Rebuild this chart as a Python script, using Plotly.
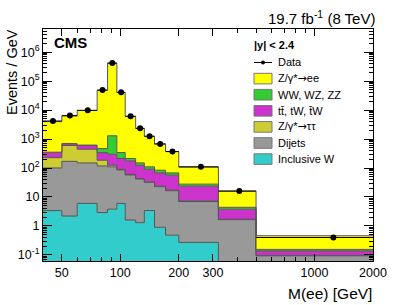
import numpy as np
import plotly.graph_objects as go

# ---------------- data (Events / GeV) ----------------
mass_edges = [40, 50, 60, 76, 86, 96, 106, 120, 133, 150, 171, 200, 320, 500, 2000]
data_vals = [4200, 6450, 9800, 49000, 420000, 41000, 6100, 2350, 1250, 680, 371, 110, 16, 0.40]

incl_w  = [3.4, 2.2, 6.0, 2.9, 3.8, 6.0, 1.6, 1.3, 3.4, 0.9, 0.48, 0.27, 0.01, 0.001]
dijets  = [97, 168, 144, 115, 106, 80, 56, 40, 28.6, 21.8, 16.0, 6.7, 1.64, 0.092]
ztautau = [128, 430, 296, 68, 15, 4, 3, 2, 1.4, 1.0, 0.8, 0.4, 0.05, 0.004]
ttbar   = [117, 90, 164, 154, 175, 123, 116, 81, 57.6, 44.3, 39.5, 16.3, 2.1, 0.04]
diboson = [7, 10, 10, 130, 1000, 129, 36, 26, 19, 16, 11.2, 4.1, 0.6, 0.018]
zee     = [3650, 5600, 9080, 48000, 413700, 40150, 5840, 2180, 1130, 591, 300, 80, 11.6, 0.305]

x_ticks = [50, 100, 200, 300, 1000, 2000]
x_ticklabels = ["50", "100", "200", "300", "1000", "2000"]
y_ticks = [0.1, 1, 10, 1e2, 1e3, 1e4, 1e5, 1e6]
y_ticklabels = ["10<sup>-1</sup>", "1", "10", "10<sup>2</sup>", "10<sup>3</sup>",
                "10<sup>4</sup>", "10<sup>5</sup>", "10<sup>6</sup>"]

ARROW = '<span style="font-family:DejaVu Sans">→</span>'
layer_names = ["Inclusive W", "Dijets", "Z/γ*" + ARROW + "ττ", "tt\u0304, tW, t\u0304W",
               "WW, WZ, ZZ", "Z/γ*" + ARROW + "ee"]
layer_vals = [incl_w, dijets, ztautau, ttbar, diboson, zee]
layer_colors = ["#33cccc", "#999999", "#cccc33", "#cc33cc", "#33cc33", "#ffff00"]

FONT = "Liberation Sans, Arial, Helvetica, sans-serif"

fig = go.Figure()

edges = np.array(mass_edges, dtype=float)
floor = np.full(len(data_vals), 1e-4)
fig.add_trace(go.Scatter(x=edges, y=np.append(floor, floor[-1]), mode="lines",
                         line=dict(width=0, shape="hv"), showlegend=False,
                         hoverinfo="skip"))
cum = floor.copy()
for name, vals, col in zip(layer_names, layer_vals, layer_colors):
    cum = cum + np.array(vals, dtype=float)
    fig.add_trace(go.Scatter(
        x=edges, y=np.append(cum, cum[-1]), mode="lines",
        line=dict(width=1, color="#555555", shape="hv"),
        fill="tonexty", fillcolor=col, name=name, showlegend=False))

centers = 0.5 * (edges[:-1] + edges[1:])
fig.add_trace(go.Scatter(
    x=centers, y=data_vals, mode="markers",
    marker=dict(color="black", size=6),
    error_x=dict(type="data", symmetric=False,
                 array=edges[1:] - centers, arrayminus=centers - edges[:-1],
                 width=0, thickness=1, color="black"),
    showlegend=False, name="Data"))

# ---------------- layout ----------------
W, H = 399, 305
L, R, T, B = 43, 373, 29, 261


def px(xp):
    return (xp - L) / (R - L)


def py(yp):
    return (B - yp) / (B - T)


shapes = []
annotations = []
LEGFONT = 11

# legend (manual)
annotations.append(dict(text="<b>|y| < 2.4</b>", x=px(252), y=py(45), xref="paper", yref="paper",
                        xanchor="left", yanchor="middle", showarrow=False,
                        font=dict(family=FONT, size=11, color="black")))
leg_y0 = 62.5
leg_dy = 16.1
# Data entry
shapes.append(dict(type="line", xref="paper", yref="paper", x0=px(254), x1=px(272),
                   y0=py(leg_y0), y1=py(leg_y0), line=dict(color="black", width=1)))
shapes.append(dict(type="circle", xref="paper", yref="paper", x0=px(261), x1=px(265),
                   y0=py(leg_y0 + 2), y1=py(leg_y0 - 2), fillcolor="black",
                   line=dict(color="black", width=0)))
annotations.append(dict(text="Data", x=px(276), y=py(leg_y0), xref="paper", yref="paper",
                        xanchor="left", yanchor="middle", showarrow=False,
                        font=dict(family=FONT, size=LEGFONT, color="black")))
for i, (name, col) in enumerate(zip(layer_names[::-1], layer_colors[::-1])):
    yc = leg_y0 + leg_dy * (i + 1)
    shapes.append(dict(type="rect", xref="paper", yref="paper", x0=px(254), x1=px(272),
                       y0=py(yc + 5.3), y1=py(yc - 5.3), fillcolor=col,
                       line=dict(color="#777777", width=1)))
    annotations.append(dict(text=name, x=px(276), y=py(yc), xref="paper", yref="paper",
                            xanchor="left", yanchor="middle", showarrow=False,
                            font=dict(family=FONT, size=LEGFONT, color="black")))

# CMS label
annotations.append(dict(text="<b>CMS</b>", x=px(52), y=py(43), xref="paper", yref="paper",
                        xanchor="left", yanchor="middle", showarrow=False,
                        font=dict(family=FONT, size=15, color="black")))
# lumi label
annotations.append(dict(text="19.7 fb<sup>-1</sup> (8 TeV)", x=px(377), y=py(17),
                        xref="paper", yref="paper", xanchor="right", yanchor="middle",
                        showarrow=False, font=dict(family=FONT, size=15, color="black")))
# axis titles
annotations.append(dict(text="M(ee) [GeV]", x=px(374), y=py(293), xref="paper", yref="paper",
                        xanchor="right", yanchor="middle", showarrow=False,
                        font=dict(family=FONT, size=15.5, color="black")))
annotations.append(dict(text="Events / GeV", x=px(12), y=py(27), xref="paper", yref="paper",
                        xanchor="center", yanchor="top", textangle=-90, showarrow=False,
                        font=dict(family=FONT, size=14.5, color="black")))

x_minor = [60, 70, 80, 90, 400, 500, 600, 700, 800, 900]
y_minor = [k * 10.0 ** p for p in range(-2, 7) for k in range(2, 10)]

fig.update_layout(
    width=W, height=H,
    margin=dict(l=L, r=W - R, t=T, b=H - B, pad=0, autoexpand=False),
    paper_bgcolor="white", plot_bgcolor="white",
    showlegend=False,
    font=dict(family=FONT, size=12.5, color="black"),
    shapes=shapes, annotations=annotations,
    xaxis=dict(type="log", range=[np.log10(40), np.log10(2000)],
               tickvals=x_ticks, ticktext=x_ticklabels, automargin=False,
               ticks="inside", ticklen=7, tickwidth=1, tickcolor="black",
               showline=True, linecolor="black", linewidth=1, mirror="allticks",
               showgrid=False, zeroline=False,
               minor=dict(tickvals=x_minor, ticks="inside", ticklen=4,
                          tickcolor="black", showgrid=False),
               tickfont=dict(family=FONT, size=12.5)),
    yaxis=dict(type="log", range=[-1.21, 6.8],
               tickvals=y_ticks, ticktext=y_ticklabels, automargin=False,
               ticks="inside", ticklen=9, tickwidth=1, tickcolor="black",
               showline=True, linecolor="black", linewidth=1, mirror="allticks",
               showgrid=False, zeroline=False,
               minor=dict(tickvals=y_minor, ticks="inside", ticklen=4,
                          tickcolor="black", showgrid=False),
               tickfont=dict(family=FONT, size=12.5)),
)

fig.write_html("out.html",
               config={"displayModeBar": False},
               post_script="document.body.style.margin='0px';"
                           "document.body.style.overflow='hidden';")
